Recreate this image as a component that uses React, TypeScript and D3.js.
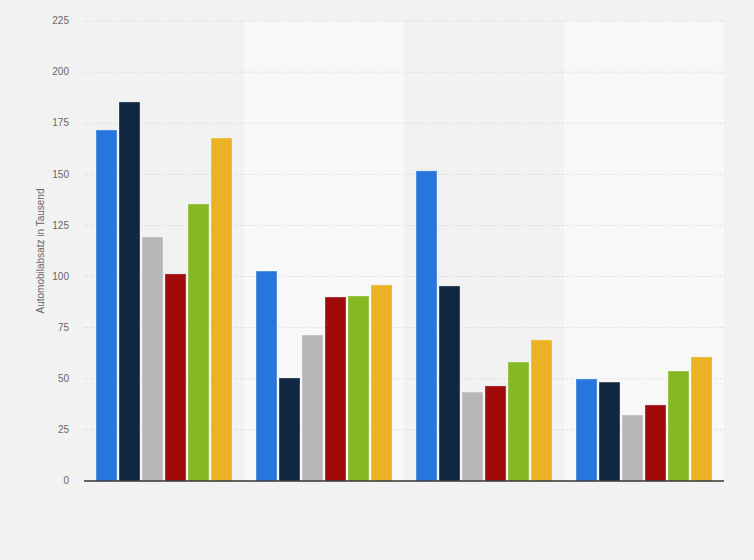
import React, { useEffect, useRef } from 'react';
import * as d3 from 'd3';

// no x labels are shown in the chart, so the group names are placeholders
const categories = ['Gruppe 1', 'Gruppe 2', 'Gruppe 3', 'Gruppe 4'];
const seriesNames = ['Serie 1', 'Serie 2', 'Serie 3', 'Serie 4', 'Serie 5', 'Serie 6'];
const seriesColors = ['#2876dd', '#0f2741', '#b7b7b7', '#a10a0a', '#86b823', '#ebb324'];

// one row per group, one value per series
const values: number[][] = [
  [171.7, 185.4, 119.4, 101.3, 135.5, 167.8],
  [102.7, 50.4, 71.4, 90.0, 90.5, 95.9],
  [151.7, 95.4, 43.5, 46.5, 58.2, 69.0],
  [49.9, 48.4, 32.3, 37.2, 53.8, 60.7],
];

const yTicks = [0, 25, 50, 75, 100, 125, 150, 175, 200, 225];
const yTitle = 'Automobilabsatz in Tausend';

const App: React.FC = () => {
  const chartRef = useRef<SVGSVGElement | null>(null);

  useEffect(() => {
    renderChart();
  }, []);

  const renderChart = () => {
    const width = 754;
    const height = 560;
    const margin = { top: 21, right: 30, bottom: 79, left: 84 };

    d3.select(chartRef.current).selectAll('*').remove();

    const svg = d3.select(chartRef.current)
      .attr('width', width)
      .attr('height', height);

    svg.append('rect')
      .attr('width', width)
      .attr('height', height)
      .attr('fill', '#f2f2f2');

    const x0 = d3.scaleBand<string>()
      .domain(categories)
      .range([margin.left, width - margin.right])
      .padding(0);

    const x1 = d3.scaleBand<string>()
      .domain(seriesNames)
      .range([0, x0.bandwidth()])
      .paddingInner(0.087)
      .paddingOuter(0.522);

    const y = d3.scaleLinear()
      .domain([0, 225])
      .range([height - margin.bottom, margin.top]);

    // alternating group bands
    svg.append('g')
      .selectAll('rect')
      .data(categories)
      .enter().append('rect')
      .attr('x', d => x0(d)!)
      .attr('y', y(225))
      .attr('width', x0.bandwidth())
      .attr('height', y(0) - y(225))
      .attr('fill', (d, i) => (i % 2 === 1 ? '#f8f8f8' : 'none'));

    // grid lines
    svg.append('g')
      .selectAll('line')
      .data(yTicks.filter(t => t > 0))
      .enter().append('line')
      .attr('x1', margin.left)
      .attr('x2', width - margin.right)
      .attr('y1', d => y(d))
      .attr('y2', d => y(d))
      .attr('stroke', '#cfcfcf')
      .attr('stroke-width', 1)
      .attr('stroke-dasharray', '1,2');

    // tick labels
    svg.append('g')
      .selectAll('text')
      .data(yTicks)
      .enter().append('text')
      .attr('x', 69)
      .attr('y', d => y(d))
      .attr('dy', '0.32em')
      .attr('text-anchor', 'end')
      .style('font-family', '"Liberation Sans", Arial, sans-serif')
      .style('font-size', '10px')
      .style('fill', '#666')
      .text(d => d);

    // bars
    const groups = svg.append('g')
      .selectAll('g')
      .data(values)
      .enter().append('g')
      .attr('transform', (d, i) => `translate(${x0(categories[i])},0)`);

    groups.selectAll('rect')
      .data(d => d)
      .enter().append('rect')
      .attr('x', (d, i) => x1(seriesNames[i])!)
      .attr('y', d => y(d))
      .attr('width', x1.bandwidth())
      .attr('height', d => y(0) - y(d))
      .attr('fill', (d, i) => seriesColors[i])
      .attr('stroke', 'rgba(255,255,255,0.35)')
      .attr('stroke-width', 1);

    // baseline
    svg.append('line')
      .attr('x1', margin.left)
      .attr('x2', width - margin.right)
      .attr('y1', y(0))
      .attr('y2', y(0))
      .attr('stroke', '#333')
      .attr('stroke-width', 1.5);

    // y axis title
    svg.append('text')
      .attr('transform', `translate(44,${(y(0) + y(225)) / 2 + 0}) rotate(-90)`)
      .attr('text-anchor', 'middle')
      .style('font-family', '"Liberation Sans", Arial, sans-serif')
      .style('font-size', '10px')
      .style('fill', '#666')
      .text(yTitle);
  };

  return (
    <div style={{ position: 'absolute', left: 0, top: 0 }}>
      <svg ref={chartRef} style={{ display: 'block' }}></svg>
    </div>
  );
};

export default App;
